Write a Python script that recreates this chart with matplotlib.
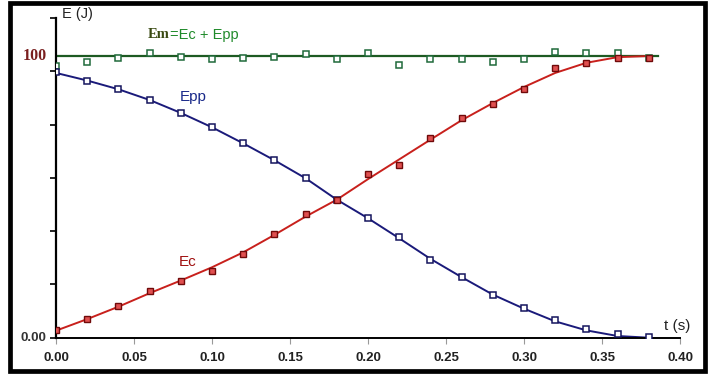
import numpy as np
import matplotlib.pyplot as plt
from matplotlib.patches import Rectangle

# time values (s)
t = [0.00, 0.02, 0.04, 0.06, 0.08, 0.10, 0.12, 0.14, 0.16, 0.18,
     0.20, 0.22, 0.24, 0.26, 0.28, 0.30, 0.32, 0.34, 0.36, 0.38]

# measured points (J)
epp = [94.4, 91.2, 88.2, 84.3, 79.8, 74.7, 69.0, 63.2, 56.8, 49.0,
       42.6, 35.6, 27.6, 21.4, 15.0, 10.7, 6.3, 3.2, 1.3, 0.1]
ec = [2.7, 6.6, 11.1, 16.6, 20.2, 23.8, 29.7, 36.7, 44.0, 49.0,
      58.2, 61.4, 70.8, 77.9, 82.9, 88.3, 95.8, 97.4, 99.4, 99.4]
em = [96.6, 97.9, 99.3, 101.1, 99.8, 98.8, 99.3, 99.8, 100.6, 98.8,
      101.0, 96.8, 98.8, 98.8, 97.8, 98.8, 101.3, 101.0, 101.0, 99.4]

# smoothed model curves
epp_fit = [94.0, 91.3, 88.2, 84.4, 79.8, 74.7, 69.0, 63.0, 56.6, 49.0,
           42.4, 35.3, 28.0, 21.5, 15.3, 10.3, 5.8, 2.6, 0.6, 0.0]
ec_fit = [2.5, 6.6, 11.0, 15.8, 20.3, 25.0, 30.3, 36.5, 43.0, 49.0,
          56.3, 63.3, 70.3, 77.2, 83.3, 89.0, 94.0, 97.6, 99.6, 100.0]
em_t = [0.0, 0.386]
em_fit = [100, 100]

xticks = [0.00, 0.05, 0.10, 0.15, 0.20, 0.25, 0.30, 0.35, 0.40]

ymax = 113.5

fig = plt.figure(figsize=(7.12, 3.80), dpi=100)
ax = fig.add_axes([56 / 712, 1 - 337.7 / 380, 624 / 712, 319.7 / 380])

ax.plot(em_t, em_fit, color='#1d5a22', lw=1.6, zorder=2)
ax.plot(t, epp_fit, color='#1a1a7a', lw=1.4, zorder=2)
ax.plot(t, ec_fit, color='#c8201c', lw=1.4, zorder=2)

ax.plot(t, em, 's', ms=3.8, mfc='white', mec='#1f6a3a', mew=1.1, zorder=3)
ax.plot(t, epp, 's', ms=3.8, mfc='white', mec='#15155e', mew=1.1, zorder=3)
ax.plot(t, ec, 's', ms=3.8, mfc='#e05050', mec='#700a0a', mew=1.0, zorder=3)

ax.set_xlim(0, 0.40)
ax.set_ylim(0, ymax)
ax.spines['top'].set_visible(False)
ax.spines['right'].set_visible(False)
ax.spines['left'].set_linewidth(1.6)
ax.spines['bottom'].set_linewidth(1.4)

ax.set_xticks(xticks)
ax.set_xticklabels(['%.2f' % v for v in xticks], fontsize=9.5, fontweight='bold',
                   family='Liberation Sans', color='#222222')
ax.tick_params(axis='x', length=4, color='#999999', pad=6)

ax.set_yticks(np.linspace(0, ymax, 7))
ax.set_yticklabels([])
ax.tick_params(axis='y', length=4, width=1.2, color='black')

ax.text(-0.006, 0, '0.00', ha='right', va='center', fontsize=9.5,
        fontweight='bold', family='Liberation Sans', color='#333333')
ax.text(-0.006, 100, '100', ha='right', va='center', fontsize=11.5,
        fontweight='bold', family='Liberation Serif', color='#7a1f1f')

ax.text(0.004, ymax + 1.5, 'E (J)', ha='left', va='center', fontsize=10.5,
        family='Liberation Sans', color='#222222')
ax.text(0.3895, 4, 't (s)', ha='left', va='center', fontsize=11,
        family='Liberation Sans', color='#222222')

ax.text(0.059, 107.5, 'Em', ha='left', va='center', fontsize=10.5,
        fontweight='bold', family='Liberation Serif', color='#3a4a12')
ax.text(0.0728, 107.5, '=Ec + Epp', ha='left', va='center', fontsize=10.5,
        family='Liberation Sans', color='#1f8a2a')
ax.text(0.0795, 85.5, 'Epp', ha='left', va='center', fontsize=11,
        family='Liberation Sans', color='#1a2a8a')
ax.text(0.0785, 27, 'Ec', ha='left', va='center', fontsize=11,
        family='Liberation Sans', color='#a01010')

fig.patches.append(Rectangle((10 / 712, 1 - 370.5 / 380), 695 / 712, 368 / 380,
                             transform=fig.transFigure, fill=False,
                             edgecolor='black', linewidth=3.4))

fig.savefig('out.png', dpi=100)
